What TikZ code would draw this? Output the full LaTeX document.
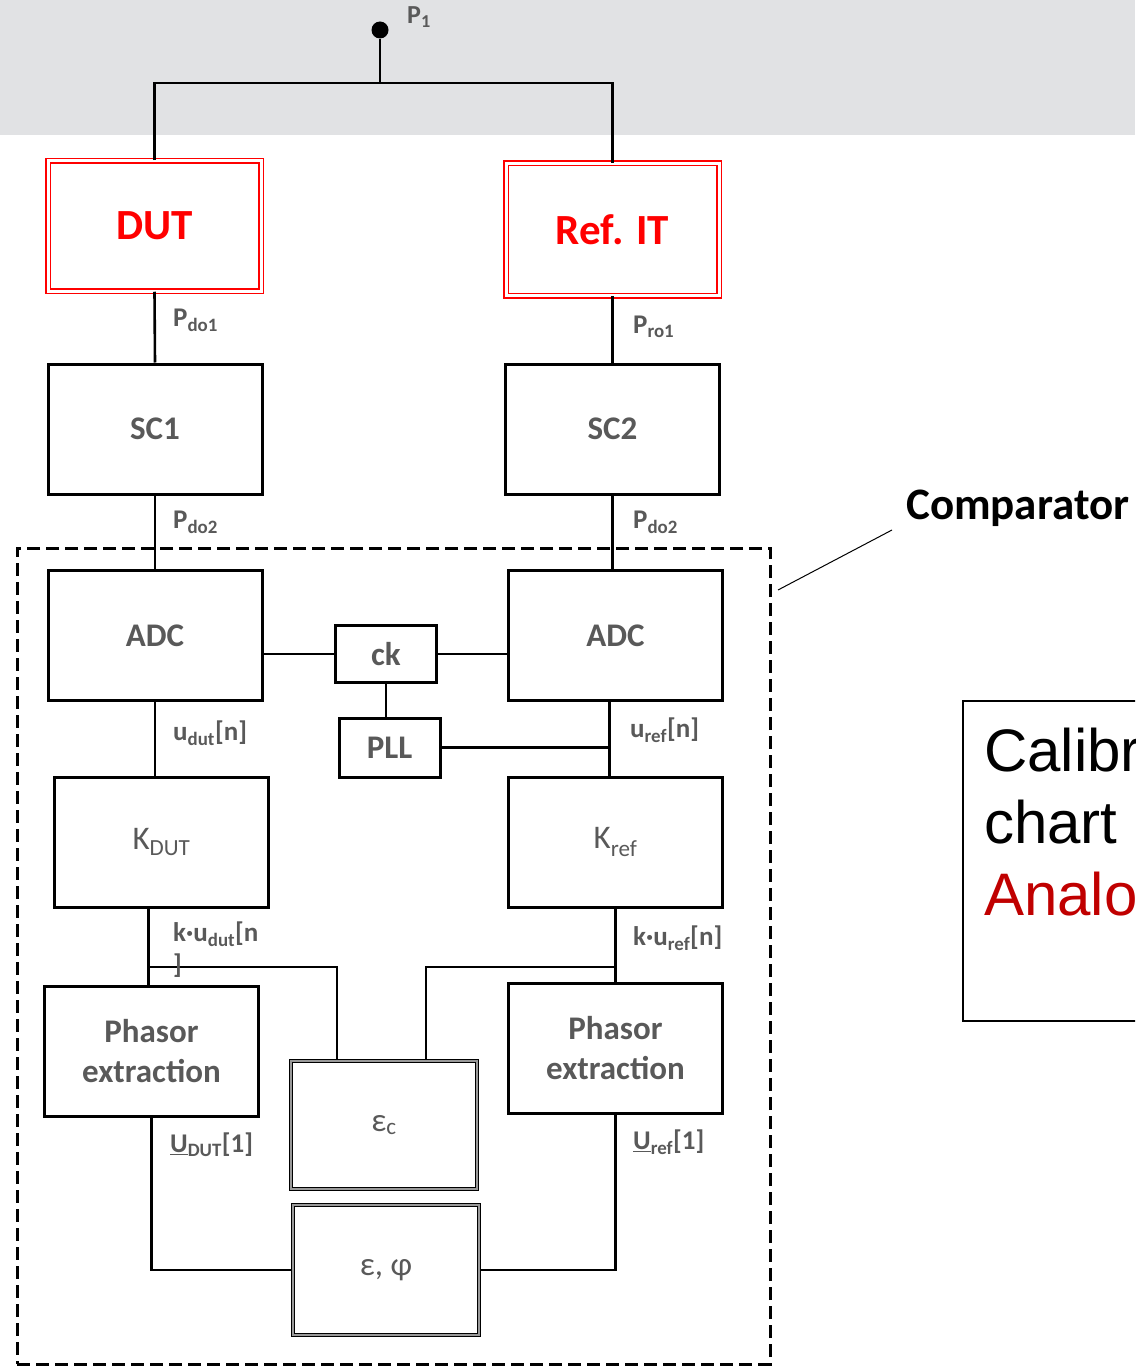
\documentclass[tikz,border=0pt]{standalone}
\usepackage{fontspec}
\setmainfont{Carlito}
\newfontfamily\arialfont{Liberation Sans}
\usepackage{tikz}
\usetikzlibrary{calc}
\definecolor{bandGray}{RGB}{225, 226, 228}
\definecolor{textGray}{RGB}{89, 89, 89}
\definecolor{darkRed}{RGB}{192, 0, 0}
\tikzset{
    blockbox/.style={draw=black, line width=3pt, minimum width=214, minimum height=130,
        inner sep=0pt, text=textGray, font=\bfseries\fontsize{33}{40}\selectfont, align=center},
    smallbox/.style={blockbox, minimum width=101, minimum height=57},
    sourcebox/.style={draw=red, double=white, double distance=3pt, line width=1.5pt,
        minimum width=213, minimum height=130, inner sep=0pt, text=red,
        font=\bfseries\fontsize{43}{50}\selectfont},
    errbox/.style={draw=black, double=gray!80, double distance=1.8pt, line width=1.3pt,
        minimum width=186, minimum height=128, inner sep=0pt, text=textGray,
        font=\fontsize{33}{40}\selectfont},
    sig/.style={font=\bfseries\fontsize{27}{32}\selectfont, text=textGray, anchor=west,
        inner sep=0pt, align=left},
    wire/.style={draw=black, line width=2.6pt},
}
\begin{document}
\begin{tikzpicture}[x=1pt, y=-1pt]
    \useasboundingbox (0,0) rectangle (1135,1367);
    \clip (0,0) rectangle (1135,1367);

    % Supply band
    \fill[bandGray] (0,0) rectangle (1135,135);
    \node[circle, fill=black, inner sep=0pt, minimum size=17] (p1) at (380,30) {};
    \node[font=\bfseries\fontsize{26}{30}\selectfont, text=textGray, anchor=west, inner sep=0pt] (p1lbl) at (407,17) {P\textsubscript{1}};
    \coordinate (split) at (380,83);

    % Transformers under test
    \node[sourcebox] (dut) at (154.5,226) {DUT};
    \node[sourcebox, minimum height=132] (refit) at (612.5,229.5) {Ref. IT};

    % Signal conditioning
    \node[blockbox] (sc1) at (155,429) {SC1};
    \node[blockbox] (sc2) at (612.5,429) {SC2};

    % Comparator
    \node[draw=black, line width=3pt, dash pattern=on 13pt off 6pt, minimum width=753, minimum height=816, inner sep=0pt] (cmp) at (393.5,956) {};
    \node[font=\bfseries\fontsize{45}{52}\selectfont, anchor=west, inner sep=0pt] (cmplbl) at (906,508) {Comparator};
    \coordinate (cmptip) at (778,590);

    \node[blockbox] (adc1) at (155,635.5) {ADC};
    \node[blockbox] (adc2) at (615.5,635.5) {ADC};
    \node[smallbox] (ck) at (386,654) {ck};
    \node[smallbox, minimum height=59] (pll) at (389.5,747.5) {PLL};

    \node[blockbox, font=\fontsize{33}{40}\selectfont] (kdut) at (161.5,842) {K\textsubscript{DUT}};
    \node[blockbox, font=\fontsize{33}{40}\selectfont] (kref) at (615.5,842) {K\textsubscript{ref}};

    \node[blockbox] (ph1) at (151.5,1051.5) {Phasor\\extraction};
    \node[blockbox] (ph2) at (615.5,1048) {Phasor\\extraction};

    \node[errbox] (epsc) at (384,1125) {ε\textsubscript{c}};
    \node[errbox, minimum height=130] (epsphi) at (386,1270) {ε, φ};

    % Calibration chart (cut at the right edge)
    \node[draw=black, line width=1.5pt, minimum width=260, minimum height=320, anchor=north west, inner sep=0pt] (calib) at (962,700) {};
    \node[font=\arialfont\fontsize{60}{72}\selectfont, anchor=north west, align=left, inner sep=0pt] (calibtxt) at (984,728)
        {Calibr\\chart\\\textcolor{darkRed}{Analo}};

    % Taps
    \coordinate (reftap) at ([xshift=-6]adc2.south);
    \coordinate (duttap) at ([xshift=-13]kdut.south);

    % Wires
    \draw[wire] (p1) -- (split);
    \draw[wire] (dut.north) |- (split) -| (refit.north);
    \draw[wire] (dut.south) -- (sc1.north);
    \draw[wire] (refit.south) -- (sc2.north);
    \draw[wire] (sc1.south) -- (sc1.south |- adc1.north);
    \draw[wire] (sc2.south) -- (sc2.south |- adc2.north);
    \draw[wire] (adc1.east |- ck.west) -- (ck.west);
    \draw[wire] (ck.east) -- (ck.east -| adc2.west);
    \draw[wire] (ck.south) -- (ck.south |- pll.north);
    \draw[wire] (reftap) -- (reftap |- kref.north);
    \draw[wire] (pll.east) -- (pll.east -| reftap);
    \draw[wire] (adc1.south) -- (adc1.south |- kdut.north);
    \draw[wire] (duttap) -- (duttap |- ph1.north);
    \draw[wire] (kref.south) -- (kref.south |- ph2.north);
    \draw[wire] (duttap |- 0,967) -| ($(epsc.north)!0.5!(epsc.north west)$);
    \draw[wire] (kref.south |- 0,967) -| ($(epsc.north)!0.45!(epsc.north east)$);
    \draw[wire] (ph1.south) |- (epsphi.west);
    \draw[wire] (ph2.south) |- (epsphi.east);
    \draw[line width=1pt] (cmptip) -- ([xshift=-14,yshift=-22]cmplbl.west);

    % Signal labels
    \node[sig] (pdo1) at (173,320) {P\textsubscript{do1}};
    \node[sig] (pro1) at (633,327) {P\textsubscript{ro1}};
    \node[sig] (pdo2a) at (173,522) {P\textsubscript{do2}};
    \node[sig] (pdo2b) at (633,522) {P\textsubscript{do2}};
    \node[sig] (udut) at (173,733) {u\textsubscript{dut}[n]};
    \node[sig] (uref) at (630,730) {u\textsubscript{ref}[n]};
    \node[sig, anchor=north west] (kudut) at (173,922) {k·u\textsubscript{dut}[n\\]};
    \node[sig] (kuref) at (633,938) {k·u\textsubscript{ref}[n]};
    \node[sig] (Udut) at (170,1145) {\underline{U}\textsubscript{DUT}[1]};
    \node[sig] (Uref) at (633,1142) {\underline{U}\textsubscript{ref}[1]};
\end{tikzpicture}
\end{document}
